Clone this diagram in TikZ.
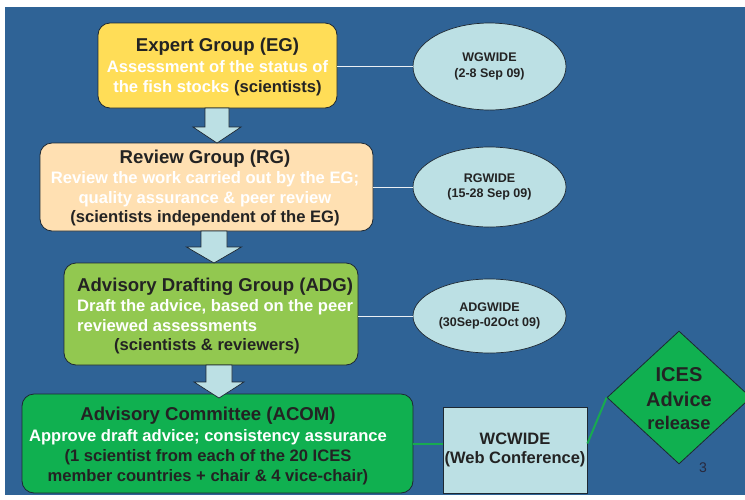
\documentclass[tikz,border=0pt]{standalone}
\usepackage{fontspec}
\setmainfont{Liberation Sans}
\usetikzlibrary{shapes.geometric,calc}
\definecolor{bgblue}{RGB}{47,99,150}
\definecolor{egyellow}{RGB}{255,221,87}
\definecolor{rgpeach}{RGB}{255,224,178}
\definecolor{adggreen}{RGB}{146,200,80}
\definecolor{acomgreen}{RGB}{16,176,80}
\definecolor{lightcyan}{RGB}{188,224,228}
\definecolor{darktext}{RGB}{35,35,35}
\definecolor{borderdark}{RGB}{30,40,50}
\definecolor{linegreen}{RGB}{24,170,80}
\definecolor{numgray}{RGB}{40,40,60}
\newcommand\myblockarrow[4]{%
  \draw[blockarr] ($(#1)+(-#3,0)$) -- ($(#2)+(-#3,-16)$) -- ($(#2)+(-#4,-16)$) -- (#2)
    -- ($(#2)+(#4,-16)$) -- ($(#2)+(#3,-16)$) -- ($(#1)+(#3,0)$) -- cycle;}
\newcommand\tfont{\fontsize{18.6}{20.5}\selectfont}
\newcommand\wt[1]{\textcolor{white}{#1}}
\begin{document}
\begin{tikzpicture}[x=1pt,y=-1pt,
  box/.style={draw=borderdark, line width=0.8pt, rounded corners=12pt, inner sep=0pt},
  txt/.style={inner sep=0pt, text=darktext, align=center},
  ell/.style={ellipse, draw=borderdark, line width=0.7pt, fill=lightcyan, inner sep=0pt,
    text=darktext, align=center, font={\fontsize{12.5}{15.5}\selectfont\bfseries},
    minimum width=153pt},
  blockarr/.style={draw=borderdark, line width=0.7pt, fill=lightcyan, line join=miter},
  wline/.style={draw=white!90!bgblue, line width=0.9pt},
  gline/.style={draw=linegreen, line width=2pt}]
\useasboundingbox (0,0) rectangle (745,499);
\fill[white] (0,0) rectangle (745,499);
\fill[bgblue] (5,7) rectangle (745,495);

% boxes
\node[box, fill=egyellow, minimum width=239pt, minimum height=85pt] (eg) at (217.5,65.5) {};
\node[box, fill=rgpeach, minimum width=333pt, minimum height=88pt] (rg) at (206.5,187) {};
\node[box, fill=adggreen, minimum width=294pt, minimum height=102pt] (adg) at (211,314) {};
\node[box, fill=acomgreen, minimum width=391pt, minimum height=99pt] (acom) at (217.5,443.5) {};

% block arrows
\coordinate (a1s) at (217,108); \coordinate (a1t) at (217,143);
\coordinate (a2s) at (214,231); \coordinate (a2t) at (214,263);
\coordinate (a3s) at (219,365); \coordinate (a3t) at (219,398);
\myblockarrow{a1s}{a1t}{12}{24}
\myblockarrow{a2s}{a2t}{13}{27.5}
\myblockarrow{a3s}{a3t}{13}{25}

% box texts
\node[txt, font={\fontsize{16.6}{20.5}\selectfont\bfseries}] (egt) at (217.5,67.4)
  {{\tfont Expert Group (EG)}\\\wt{Assessment of the status of}\\\wt{the fish stocks }(scientists)};
\node[txt, font={\fontsize{16.6}{19.7}\selectfont\bfseries}] (rgt) at (205,188.4)
  {{\tfont Review Group (RG)}\\\wt{Review the work carried out by the EG;}\\\wt{quality assurance \& peer review}\\(scientists independent of the EG)};
\node[txt, align=left, anchor=west, font={\fontsize{16.6}{19.7}\selectfont\bfseries}] (adgt) at (77,316.4)
  {{\tfont Advisory Drafting Group (ADG)}\\\wt{Draft the advice, based on the peer}\\\wt{reviewed assessments}\\\hspace*{37pt}(scientists \& reviewers)};
\node[txt, font={\fontsize{16.6}{20.3}\selectfont\bfseries}] (acomt) at (208,446.4)
  {{\tfont Advisory Committee (ACOM)}\\\wt{Approve draft advice; consistency assurance}\\(1 scientist from each of the 20 ICES\\member countries + chair \& 4 vice-chair)};

% ellipses
\node[ell, minimum height=87pt] (wg) at (489.5,66.5) {WGWIDE\\(2-8 Sep 09)};
\node[ell, minimum height=80pt] (rgw) at (489.5,187) {RGWIDE\\(15-28 Sep 09)};
\node[ell, minimum height=74pt] (adgw) at (489.5,316) {ADGWIDE\\(30Sep-02Oct 09)};

% white connectors
\draw[wline] (eg.east |- wg.west) -- (wg.west);
\draw[wline] (rg.east |- rgw.west) -- (rgw.west);
\draw[wline] (adg.east |- adgw.west) -- (adgw.west);

% web conference
\node[draw=borderdark, line width=0.8pt, fill=lightcyan, minimum width=144pt, minimum height=86pt,
  inner sep=0pt, text=darktext, align=center, font={\fontsize{16.5}{19}\selectfont\bfseries}]
  (wc) at (515,450) {WCWIDE\\(Web Conference)};

% diamond
\node[diamond, draw=borderdark, line width=0.8pt, fill=acomgreen, minimum width=144pt,
  minimum height=133pt, inner sep=0pt] (dia) at (679,397.5) {};
\node[txt, font={\fontsize{20}{25}\selectfont\bfseries}] (diat) at (679,399)
  {ICES\\Advice\\[-2pt]{\fontsize{18.3}{23}\selectfont release}};

% green connectors
\draw[gline] (acom.east) -- (acom.east -| wc.west);
\draw[gline] (acom.east -| wc.east) -- (dia.west);

% page number
\node[inner sep=0pt, text=numgray, font={\fontsize{14}{14}\selectfont}] (pg) at (703,468) {3};
\end{tikzpicture}
\end{document}
